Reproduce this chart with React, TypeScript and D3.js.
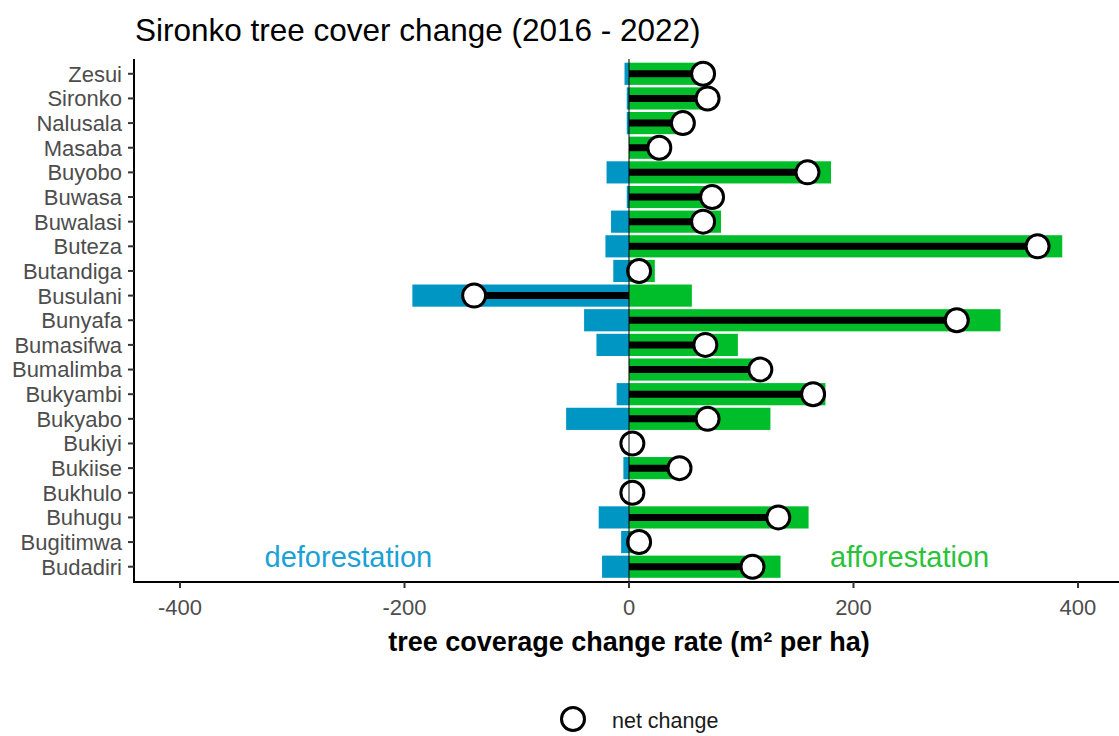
import React from "react";
import * as d3 from "d3";

// parishes, top to bottom as in the chart
const parishes = [
  "Zesui", "Sironko ", "Nalusala", "Masaba", "Buyobo", "Buwasa", "Buwalasi",
  "Buteza", "Butandiga", "Busulani", "Bunyafa", "Bumasifwa", "Bumalimba",
  "Bukyambi", "Bukyabo", "Bukiyi", "Bukiise", "Bukhulo", "Buhugu",
  "Bugitimwa", "Budadiri",
];

// m² per ha
const afforestation = [70, 72, 50, 27, 180, 76, 82, 386, 23, 56, 331, 97, 117, 175, 126, 4, 50, 3, 160, 16, 135];
const deforestation = [4, 2, 2, 0, 20, 2, 16, 21, 14, 193, 40, 29, 0, 11, 56, 1, 5, 0, 27, 7, 24];
const netChange = [66, 70, 48, 27, 159, 74, 66, 364, 9, -138, 292, 68, 117, 164, 70, 3, 45, 3, 133, 9, 110];

const xTicks = [-400, -200, 0, 200, 400];

const W = 1119;
const H = 736;
const FONT = "'Liberation Sans', Arial, sans-serif";
const GREEN = "#00BE2A";
const BLUE = "#0096C4";

export default function App() {
  const x = d3.scaleLinear().domain([-441, 441]).range([134, 1124]);
  const y = d3.scalePoint<string>().domain(parishes).range([59, 581.5]).padding(0.6);
  const step = y.step();
  const barH = step * 0.9;
  const panelTop = 59;
  const panelBottom = 582;

  return (
    <svg width={W} height={H} style={{ position: "absolute", left: 0, top: 0, background: "#fff" }} fontFamily={FONT}>
      <text x={135} y={41} fontSize={31.5} fill="#000">Sironko tree cover change (2016 - 2022)</text>

      {/* bars */}
      {parishes.map((p, i) => (
        <g key={p}>
          <rect x={x(-deforestation[i])} y={y(p)! - barH / 2} width={x(0) - x(-deforestation[i])} height={barH} fill={BLUE} />
          <rect x={x(0)} y={y(p)! - barH / 2} width={x(afforestation[i]) - x(0)} height={barH} fill={GREEN} />
        </g>
      ))}

      {/* net change lollipops */}
      {parishes.map((p, i) => (
        <line key={"s" + p} x1={x(0)} x2={x(netChange[i])} y1={y(p)} y2={y(p)} stroke="#000" strokeWidth={7} />
      ))}
      {parishes.map((p, i) => (
        <circle key={"c" + p} cx={x(netChange[i])} cy={y(p)} r={11.5} fill="#fff" stroke="#000" strokeWidth={3} />
      ))}

      <line x1={x(0)} x2={x(0)} y1={panelTop} y2={panelBottom} stroke="#000" strokeWidth={1} />

      <text x={x(-250)} y={567} fontSize={29} fill="#1BA1D6" textAnchor="middle">deforestation</text>
      <text x={x(250)} y={567} fontSize={29} fill="#2BC23B" textAnchor="middle">afforestation</text>

      {/* y axis */}
      <line x1={134} x2={134} y1={panelTop} y2={panelBottom + 1} stroke="#000" strokeWidth={2} />
      {parishes.map((p) => (
        <g key={"t" + p}>
          <line x1={128} x2={134} y1={y(p)} y2={y(p)} stroke="#333" strokeWidth={2} />
          <text x={122} y={y(p)} dy="0.36em" fontSize={22} fill="#4D4D4D" textAnchor="end">{p}</text>
        </g>
      ))}

      {/* x axis */}
      <line x1={133} x2={W} y1={panelBottom} y2={panelBottom} stroke="#000" strokeWidth={2} />
      {xTicks.map((t) => (
        <g key={"x" + t}>
          <line x1={x(t)} x2={x(t)} y1={panelBottom} y2={panelBottom + 6} stroke="#333" strokeWidth={2} />
          <text x={x(t)} y={615} fontSize={22} fill="#4D4D4D" textAnchor="middle">{t}</text>
        </g>
      ))}
      <text x={629} y={651} fontSize={27} fontWeight="bold" fill="#000" textAnchor="middle">tree coverage change rate (m² per ha)</text>

      {/* legend */}
      <circle cx={573} cy={719} r={11.5} fill="#fff" stroke="#000" strokeWidth={3} />
      <text x={612} y={728} fontSize={21.5} fill="#1a1a1a">net change</text>
    </svg>
  );
}
